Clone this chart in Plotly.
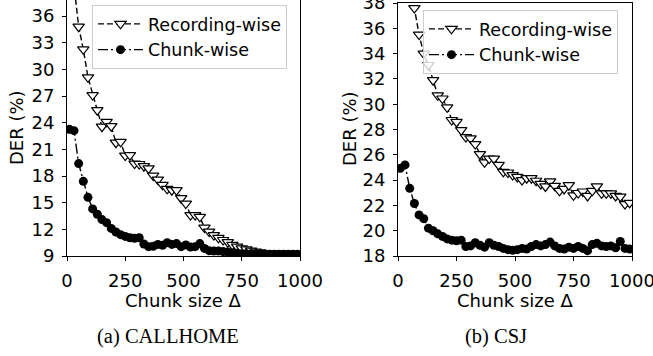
import plotly.graph_objects as go

chunk_sizes = [10, 30, 50, 70, 90, 110, 130, 150, 170, 190,
               210, 230, 250, 270, 290, 310, 330, 350, 370, 390,
               410, 430, 450, 470, 490, 510, 530, 550, 570, 590,
               610, 630, 650, 670, 690, 710, 730, 750, 770, 790,
               810, 830, 850, 870, 890, 910, 930, 950, 970, 990]

callhome_recording = [46.0, 39.5, 34.8, 32.25, 29.1, 27.1, 25.4, 23.55, 24.1, 23.6,
                      21.75, 21.85, 20.3, 20.35, 19.4, 19.35, 19.1, 18.85, 18.05, 17.6,
                      17.0, 16.55, 16.4, 16.4, 15.5, 14.9, 13.6, 13.6, 13.4, 12.2,
                      11.75, 11.35, 11.05, 10.8, 10.55, 10.25, 10.05, 9.85, 9.75, 9.6,
                      9.5, 9.4, 9.3, 9.25, 9.25, 9.25, 9.2, 9.2, 9.2, 9.2]
callhome_chunk = [23.25, 23.1, 19.4, 17.4, 15.6, 14.3, 13.7, 13.1, 12.75, 12.1,
                  11.7, 11.4, 11.2, 11.05, 11.0, 11.05, 10.35, 10.05, 10.1, 10.3,
                  10.2, 10.5, 10.3, 10.4, 10.05, 10.25, 10.0, 10.05, 10.4, 9.85,
                  9.6, 9.55, 9.55, 9.5, 9.45, 9.35, 9.3, 9.25, 9.25, 9.2,
                  9.2, 9.2, 9.2, 9.2, 9.2, 9.2, 9.2, 9.2, 9.2, 9.2]
csj_recording = [47.0, 43.0, 39.5, 37.6, 35.5, 34.0, 33.1, 31.9, 30.7, 30.45,
                 29.75, 28.75, 28.6, 27.95, 27.4, 27.3, 26.85, 26.05, 25.4, 25.7,
                 25.7, 25.2, 24.65, 24.6, 24.4, 24.25, 24.0, 24.15, 24.15, 23.95,
                 23.7, 23.5, 23.9, 23.55, 23.15, 23.3, 23.6, 22.8, 22.98, 23.1,
                 22.75, 23.15, 23.5, 22.95, 22.95, 22.95, 22.75, 22.7, 22.1, 22.2]
csj_chunk = [24.93, 25.2, 23.35, 22.15, 21.25, 20.95, 20.2, 20.0, 19.75, 19.55,
             19.35, 19.25, 19.2, 19.25, 18.75, 18.8, 19.05, 18.85, 18.7, 19.05,
             18.85, 18.75, 18.6, 18.5, 18.45, 18.5, 18.6, 18.55, 18.75, 18.9,
             18.8, 18.9, 19.1, 18.8, 18.6, 18.55, 18.7, 18.6, 18.75, 18.6,
             18.42, 18.9, 19.0, 18.8, 18.75, 18.8, 18.65, 19.15, 18.6, 18.55]

series_names = ["Recording-wise", "Chunk-wise"]
x_ticks = [0, 250, 500, 750, 1000]
callhome_yticks = [9, 12, 15, 18, 21, 24, 27, 30, 33, 36]
csj_yticks = [18, 20, 22, 24, 26, 28, 30, 32, 34, 36, 38]
captions = ["(a) CALLHOME", "(b) CSJ"]

W, H = 653, 356
FONT = "DejaVu Sans"
FS = 18
LFS = 17.5


def px_x(p):
    return p / W


def px_y(p):
    return 1 - p / H


fig = go.Figure()

rec_style = dict(mode="lines+markers",
                 line=dict(color="black", width=1.4, dash="6px,3px"),
                 marker=dict(symbol="triangle-down", size=10, color="white",
                             line=dict(color="black", width=1.2)))
chk_style = dict(mode="lines+markers",
                 line=dict(color="black", width=1.4, dash="10px,3px,2px,3px"),
                 marker=dict(symbol="circle", size=9, color="black"))

for i, (rec, chk) in enumerate([(callhome_recording, callhome_chunk), (csj_recording, csj_chunk)]):
    sfx = "" if i == 0 else "2"
    leg = "legend" if i == 0 else "legend2"
    fig.add_trace(go.Scatter(x=chunk_sizes, y=rec, name=series_names[0],
                             xaxis="x" + sfx, yaxis="y" + sfx, legend=leg, **rec_style))
    fig.add_trace(go.Scatter(x=chunk_sizes, y=chk, name=series_names[1],
                             xaxis="x" + sfx, yaxis="y" + sfx, legend=leg, **chk_style))

axis_common = dict(showgrid=False, zeroline=False, showline=True, linecolor="black",
                   linewidth=1, ticks="outside", ticklen=4, tickwidth=1, tickcolor="black",
                   automargin=False, ticklabeloverflow="allow",
                   tickfont=dict(family=FONT, size=FS, color="black"))

legend_common = dict(xanchor="left", yanchor="top", bgcolor="rgba(255,255,255,0.8)",
                     bordercolor="#cccccc", borderwidth=1,
                     font=dict(family=FONT, size=LFS, color="black"), itemwidth=45,
                     traceorder="normal")

fig.update_layout(
    width=W, height=H,
    margin=dict(l=0, r=0, t=0, b=0, autoexpand=False),
    paper_bgcolor="white", plot_bgcolor="white",
    xaxis=dict(domain=[px_x(67), px_x(300)], range=[0, 1000], tickvals=x_ticks,
               anchor="y", mirror=False, ticklabelstandoff=4, **axis_common),
    yaxis=dict(domain=[px_y(256), 1.0], range=[9, 37.8], tickvals=callhome_yticks,
               anchor="x", mirror=True, ticklabelstandoff=4, **axis_common),
    xaxis2=dict(domain=[px_x(398), px_x(632)], range=[0, 1000], tickvals=x_ticks,
                anchor="y2", mirror=True, ticklabelstandoff=4, **axis_common),
    yaxis2=dict(domain=[px_y(256), px_y(3)], range=[18, 38], tickvals=csj_yticks,
                anchor="x2", mirror=True, ticklabelstandoff=4, **axis_common),
    legend=dict(x=px_x(92), y=px_y(5), **legend_common),
    legend2=dict(x=px_x(423), y=px_y(10), **legend_common),
    showlegend=True,
)

annotations = [
    dict(text="DER (%)", x=px_x(16), y=px_y(128), textangle=-90),
    dict(text="DER (%)", x=px_x(349), y=px_y(129), textangle=-90),
    dict(text="Chunk size Δ", x=px_x(183), y=px_y(300)),
    dict(text="Chunk size Δ", x=px_x(515), y=px_y(300)),
]
for a in annotations:
    fig.add_annotation(xref="paper", yref="paper", showarrow=False,
                       xanchor="center", yanchor="middle",
                       font=dict(family=FONT, size=FS, color="black"), **a)

for cap, cx in zip(captions, [168, 496]):
    fig.add_annotation(text=cap, xref="paper", yref="paper", x=px_x(cx), y=px_y(336),
                       showarrow=False, xanchor="center", yanchor="middle",
                       font=dict(family="Liberation Serif", size=20.5, color="black"))

fig.write_html("out.html", config={"displayModeBar": False},
               post_script="document.body.style.margin='0';document.body.style.overflow='hidden';")
